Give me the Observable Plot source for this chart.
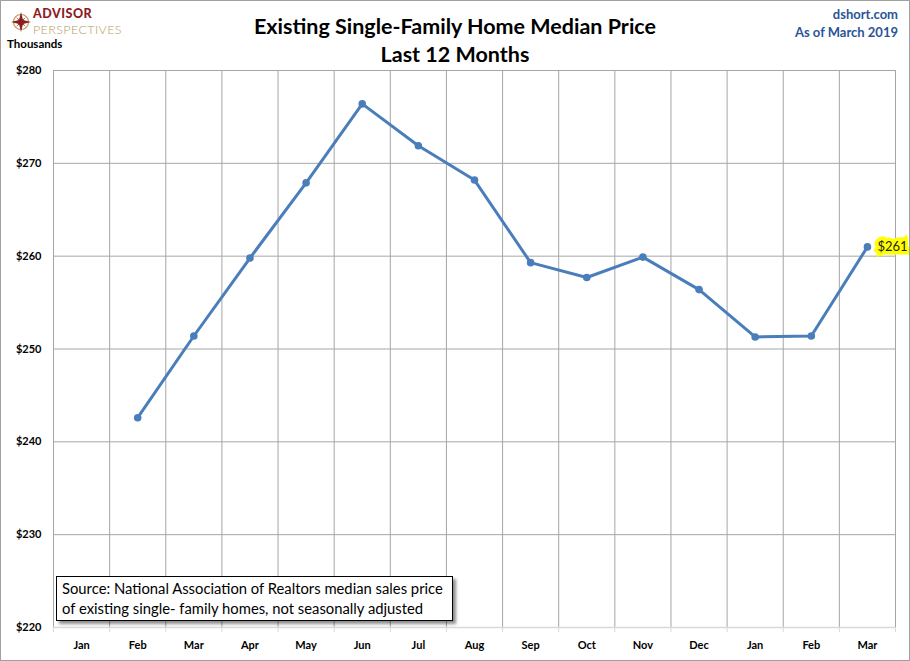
<!DOCTYPE html>
<html>
<head>
<meta charset="utf-8">
<script src="https://cdn.jsdelivr.net/npm/d3@7"></script>
<script src="https://cdn.jsdelivr.net/npm/@observablehq/plot@0.6"></script>
<style>
  body { margin: 0; background: #fff; }
  #wrap { position: relative; width: 910px; height: 661px; font-family: Lato, "Open Sans", sans-serif; }
  #chart { position: absolute; left: 0; top: 0; }
  .frame { position: absolute; left: 0; top: 0; width: 910px; height: 661px; box-sizing: border-box; border: 1px solid #a0a0a0; pointer-events: none; }
  .title { position: absolute; left: 0; width: 910px; text-align: center; font-weight: bold; font-size: 21.5px; line-height: 26px; color: #000; }
  .corner { position: absolute; right: 12px; font-weight: bold; font-size: 13px; color: #2b5597; text-align: right; }
  .units { position: absolute; left: 7px; top: 37px; font-weight: bold; font-size: 11.5px; }
  .source { position: absolute; left: 56px; top: 576px; width: 397px; padding: 1px 0 2px 5px; box-sizing: border-box; background: #fff; border: 1px solid #000; box-shadow: 3px 3px 3px rgba(0,0,0,0.45); font-size: 14.8px; line-height: 20px; white-space: nowrap; }
</style>
</head>
<body>
<div id="wrap">
  <div id="chart"></div>
  <svg style="position:absolute;left:0;top:0" width="140" height="37" font-family="Lato, sans-serif">
    <g transform="translate(21,22)">
      <circle r="7.5" fill="none" stroke="#b59a5f" stroke-width="1.2"/>
      <path d="M0,-10 L2,-2 L10,0 L2,2 L0,10 L-2,2 L-10,0 L-2,-2 Z" fill="#8c1c1f"/>
      <path d="M5,-5 L1,0 L5,5 L0,1 L-5,5 L-1,0 L-5,-5 L0,-1 Z" fill="#8c1c1f"/>
    </g>
    <text x="33" y="18" font-size="12.5" font-weight="900" fill="#8c1c1f" letter-spacing="0.5">ADVISOR</text>
    <text x="33" y="33.5" font-size="12.5" font-weight="300" fill="#b59a5f" letter-spacing="0.4">PERSPECTIVES</text>
  </svg>
  <div class="units">Thousands</div>
  <div class="title" style="top:13px">Existing Single-Family Home Median Price</div>
  <div class="title" style="top:41px">Last 12 Months</div>
  <div class="corner" style="top:6px">dshort.com</div>
  <div class="corner" style="top:24px">As of March 2019</div>
  <div class="source">Source: National Association of Realtors median sales price<br>of existing single- family homes, not seasonally adjusted</div>
  <div class="frame"></div>
</div>
<script>
// months shown on the axis, Jan 2018 .. Mar 2019 (first month has no value)
var monthLabels = ['Jan', 'Feb', 'Mar', 'Apr', 'May', 'Jun', 'Jul', 'Aug', 'Sep', 'Oct', 'Nov', 'Dec', 'Jan', 'Feb', 'Mar'];
// median price, thousands of dollars
var priceK = [null, 242.6, 251.4, 259.8, 267.9, 276.4, 271.9, 268.2, 259.3, 257.7, 259.9, 256.4, 251.3, 251.4, 261.0];
var yTicks = [220, 230, 240, 250, 260, 270, 280];

var rows = monthLabels.map(function (m, i) { return { i: i, month: m, v: priceK[i] }; })
  .filter(function (d) { return d.v != null; });
var last = rows[rows.length - 1];
var idx = d3.range(monthLabels.length);
var bounds = d3.range(monthLabels.length + 1).map(function (i) { return i - 0.5; });

var blue = '#4a7ebb';
var chart = Plot.plot({
  width: 910,
  height: 661,
  marginTop: 70,
  marginBottom: 34,
  marginLeft: 53,
  marginRight: 15,
  style: { fontFamily: 'Lato, sans-serif', fontSize: '11px', fontWeight: 'bold', color: '#000', background: 'transparent', overflow: 'visible' },
  x: {
    domain: [-0.5, monthLabels.length - 0.5],
    ticks: idx,
    tickFormat: function (i) { return monthLabels[i]; },
    tickSize: 0,
    tickPadding: 14,
    label: null
  },
  y: {
    domain: [220, 280],
    ticks: yTicks,
    tickFormat: function (d) { return '$' + d; },
    tickSize: 0,
    tickPadding: 12,
    label: null
  },
  marks: [
    Plot.ruleY(yTicks.filter(function (t) { return t > 220; }), { stroke: '#a6a6a6', strokeWidth: 1 }),
    Plot.ruleX(bounds, { stroke: '#a6a6a6', strokeWidth: 1 }),
    Plot.ruleX(bounds, { y1: 220, y2: 220, insetBottom: -5, stroke: '#d9d9d9' }),
    Plot.ruleY([220], { stroke: '#d9d9d9', strokeWidth: 1.5 }),
    Plot.line(rows, { x: 'i', y: 'v', stroke: blue, strokeWidth: 3, strokeLinejoin: 'round' }),
    Plot.dot(rows, { x: 'i', y: 'v', r: 3.8, fill: blue }),
    Plot.text([last], {
      x: 'i', y: 'v',
      text: function (d) { return '$' + Math.round(d.v); },
      textAnchor: 'start', dx: 10,
      fontSize: 13, fontWeight: 'normal', fill: '#222',
      stroke: '#ffff00', strokeWidth: 7, strokeLinejoin: 'miter'
    })
  ]
});
document.getElementById('chart').appendChild(chart);
</script>
</body>
</html>
